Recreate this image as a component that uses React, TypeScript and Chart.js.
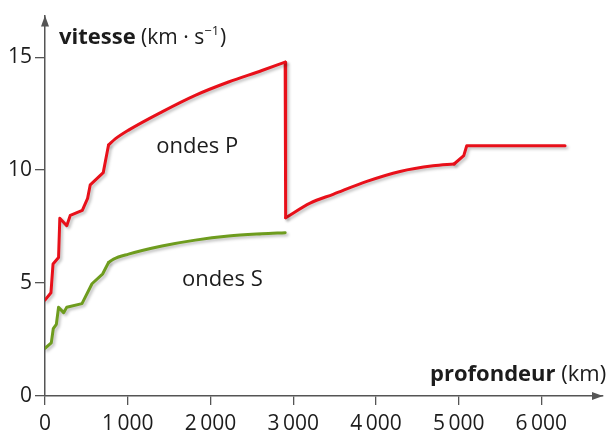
import React, { useEffect, useRef } from "react";
import { Chart, registerables } from "chart.js";

Chart.register(...registerables);

// Données
const depthP = [0, 72, 97, 164, 179, 263, 306, 451, 515, 547, 704, 768, 849, 1010, 1414, 1816, 2218, 2622, 2903, 2909, 3205, 3483, 3890, 4292, 4691, 4945, 5062, 5098, 6286];
const speedP = [4.25, 4.57, 5.84, 6.13, 7.87, 7.54, 8.0, 8.22, 8.75, 9.35, 9.89, 11.11, 11.38, 11.77, 12.58, 13.31, 13.9, 14.41, 14.78, 7.89, 8.54, 8.93, 9.5, 9.94, 10.19, 10.27, 10.64, 11.08, 11.08];

const depthS = [0, 76, 100, 137, 164, 225, 263, 447, 568, 698, 768, 829, 1010, 1414, 1816, 2218, 2622, 2903];
const speedS = [2.11, 2.35, 2.98, 3.17, 3.93, 3.69, 3.93, 4.09, 4.97, 5.41, 5.91, 6.06, 6.28, 6.64, 6.9, 7.08, 7.18, 7.23];

// index ranges: jagged parts drawn straight, smooth parts drawn as curves
const piecesP: [number, number, boolean][] = [
  [0, 11, false],
  [11, 18, true],
  [18, 19, false],
  [19, 25, true],
  [25, 28, false],
];
const piecesS: [number, number, boolean][] = [
  [0, 10, false],
  [10, 17, true],
];

const seriesLabels = ["ondes P", "ondes S"];
const labelDepth = [1345, 1655];
const labelSpeed = [10.74, 4.88];

const xTicks = [0, 1000, 2000, 3000, 4000, 5000, 6000];
const yTicks = [0, 5, 10, 15];

const yTitleBold = "vitesse";
const yTitleUnit = " (km · s";
const yTitleSup = "−1";
const xTitleBold = "profondeur";
const xTitleUnit = " (km)";

const RED = "#e8101a";
const GREEN = "#6e9c1e";
const AXIS = "#555555";
const TEXT = "#1c1c1c";
const FONT = '"Open Sans", "Noto Sans", sans-serif';

const fmt = (v: number) => {
  if (v < 1000) return String(v);
  const s = String(v);
  return s.slice(0, s.length - 3) + "\u2009" + s.slice(s.length - 3);
};

const makeSets = (label: string, depth: number[], speed: number[], pieces: [number, number, boolean][], color: string) =>
  pieces.map(([a, b, smooth]) => ({
    label,
    data: depth.slice(a, b + 1).map((d, i) => ({ x: d, y: speed[a + i] })),
    borderColor: color,
    borderWidth: 3,
    pointRadius: 0,
    tension: 0,
    cubicInterpolationMode: smooth ? "monotone" : "default",
    borderJoinStyle: "round",
    borderCapStyle: "round",
    fill: false,
  }));

const shadowPlugin = {
  id: "shadow",
  beforeDatasetDraw(chart: any) {
    const ctx = chart.ctx;
    ctx.save();
    ctx.shadowColor = "rgba(0,0,0,0.25)";
    ctx.shadowBlur = 3;
    ctx.shadowOffsetX = 2;
    ctx.shadowOffsetY = 2;
  },
  afterDatasetDraw(chart: any) {
    chart.ctx.restore();
  },
};

const decorPlugin = {
  id: "decor",
  afterDraw(chart: any) {
    const ctx = chart.ctx;
    const { left, right, top, bottom } = chart.chartArea;
    ctx.save();
    // arrows
    ctx.fillStyle = AXIS;
    ctx.beginPath();
    ctx.moveTo(left, top);
    ctx.lineTo(left - 4, top + 11);
    ctx.lineTo(left + 4, top + 11);
    ctx.closePath();
    ctx.fill();
    ctx.beginPath();
    ctx.moveTo(right, bottom);
    ctx.lineTo(right - 11, bottom - 4);
    ctx.lineTo(right - 11, bottom + 4);
    ctx.closePath();
    ctx.fill();

    // axis titles
    ctx.fillStyle = TEXT;
    ctx.textBaseline = "alphabetic";
    ctx.textAlign = "left";
    let x = left + 14;
    const yb = 44;
    ctx.font = "bold 22px " + FONT;
    ctx.fillText(yTitleBold, x, yb);
    x += ctx.measureText(yTitleBold).width;
    ctx.font = "21px " + FONT;
    ctx.fillText(yTitleUnit, x, yb);
    x += ctx.measureText(yTitleUnit).width;
    ctx.font = "13px " + FONT;
    ctx.fillText(yTitleSup, x, yb - 9);
    x += ctx.measureText(yTitleSup).width + 1;
    ctx.font = "21px " + FONT;
    ctx.fillText(")", x, yb);

    let x2 = 430;
    const yb2 = 381;
    ctx.font = "bold 22px " + FONT;
    ctx.fillText(xTitleBold, x2, yb2);
    x2 += ctx.measureText(xTitleBold).width;
    ctx.font = "22px " + FONT;
    ctx.fillText(xTitleUnit, x2, yb2);

    // series labels
    ctx.font = "22px " + FONT;
    const xs = chart.scales.x;
    const ys = chart.scales.y;
    seriesLabels.forEach((t, i) => {
      ctx.fillText(t, xs.getPixelForValue(labelDepth[i]), ys.getPixelForValue(labelSpeed[i]));
    });
    ctx.restore();
  },
};

export default function App() {
  const ref = useRef<HTMLCanvasElement | null>(null);
  useEffect(() => {
    if (!ref.current) return;
    const chart = new Chart(ref.current, {
      type: "line",
      data: {
        datasets: [
          ...makeSets(seriesLabels[0], depthP, speedP, piecesP, RED),
          ...makeSets(seriesLabels[1], depthS, speedS, piecesS, GREEN),
        ],
      } as any,
      options: {
        animation: false,
        responsive: true,
        maintainAspectRatio: false,
        layout: { padding: { top: 13, right: 7, left: 0, bottom: 0 } },
        plugins: { legend: { display: false }, tooltip: { enabled: false } },
        events: [],
        scales: {
          x: {
            type: "linear",
            min: 0,
            max: 6745,
            afterFit: (s: any) => {
              s.height = 36;
            },
            afterBuildTicks: (s: any) => {
              s.ticks = xTicks.map((v) => ({ value: v }));
            },
            ticks: {
              callback: (v: any) => fmt(Number(v)),
              font: { family: FONT, size: 21 },
              color: TEXT,
              padding: 6,
              maxRotation: 0,
              autoSkip: false,
            },
            grid: { drawOnChartArea: false, drawTicks: true, tickLength: 9, color: AXIS, lineWidth: 1.3 },
            border: { display: true, color: AXIS, width: 1.5 },
          },
          y: {
            type: "linear",
            min: 0,
            max: 16.84,
            afterFit: (s: any) => {
              s.width = 45;
            },
            afterBuildTicks: (s: any) => {
              s.ticks = yTicks.map((v) => ({ value: v }));
            },
            ticks: {
              font: { family: FONT, size: 21 },
              color: TEXT,
              padding: 3,
              autoSkip: false,
            },
            grid: { drawOnChartArea: false, drawTicks: true, tickLength: 10, color: AXIS, lineWidth: 1.3 },
            border: { display: true, color: AXIS, width: 1.5 },
          },
        },
      } as any,
      plugins: [shadowPlugin, decorPlugin],
    });
    return () => chart.destroy();
  }, []);
  return (
    <div style={{ position: "absolute", left: 0, top: 0, width: 610, height: 432, background: "#fff" }}>
      <canvas ref={ref} />
    </div>
  );
}
